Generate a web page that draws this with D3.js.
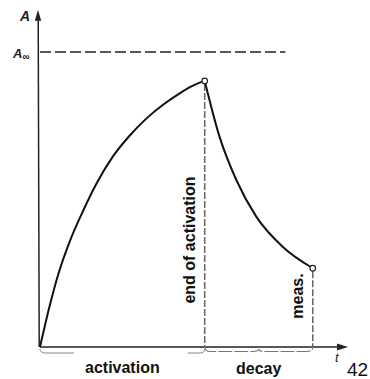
<!DOCTYPE html>
<html>
<head>
<meta charset="utf-8">
<script src="https://cdn.jsdelivr.net/npm/d3@7"></script>
<style>
  body { margin: 0; background: #fff; }
  svg { display: block; }
  text { font-family: "Liberation Sans", Arial, sans-serif; }
</style>
</head>
<body>
<script>
    var width = 370, height = 379;

    // activation curve (t, A), A_inf = 1
    var activation = [[0, 0], [0.6, 0.142], [1.1, 0.245], [1.82, 0.36], [2.62, 0.462],
      [3.44, 0.555], [4.44, 0.647], [5.45, 0.717], [6.47, 0.775], [7.47, 0.821],
      [8.48, 0.860], [9.29, 0.886], [10, 0.902]];
    // decay after end of activation
    var decay = [[10, 0.902], [10.9, 0.713], [11.92, 0.566], [13.13, 0.442],
      [14.73, 0.340], [16.56, 0.267]];
    var markers = [[10, 0.902], [16.56, 0.267]];
    var phases = [{name: "activation", t0: 0, t1: 10}, {name: "decay", t0: 10, t1: 16.56}];
    var aInf = 1, tMax = 18.7, aMax = 1.143;

    var svg = d3.select("body").append("svg").attr("width", width).attr("height", height);

    var x = d3.scaleLinear().domain([0, tMax]).range([40, 348]);
    var y = d3.scaleLinear().domain([0, aInf]).range([347, 52]);

    // axes with arrows
    svg.append("line")
        .attr("x1", x(0)).attr("y1", y(0)).attr("x2", x(tMax) - 8).attr("y2", y(0))
        .attr("stroke", "#222").attr("stroke-width", 1.4);
    svg.append("path")
        .attr("d", "M" + x(tMax) + "," + y(0) + "l-11,-3.5l0,7z")
        .attr("fill", "#222");
    svg.append("line")
        .attr("x1", x(0) - 0.8).attr("y1", y(0)).attr("x2", x(0) - 1.8).attr("y2", y(aMax) + 8)
        .attr("stroke", "#222").attr("stroke-width", 1.5);
    svg.append("path")
        .attr("d", "M" + (x(0) - 2) + "," + y(aMax) + "l-3.2,11l6.4,0z")
        .attr("fill", "#222");

    // A infinity asymptote
    svg.append("line")
        .attr("x1", x(0)).attr("y1", y(aInf)).attr("x2", x(14.9)).attr("y2", y(aInf))
        .attr("stroke", "#222").attr("stroke-width", 1.5)
        .attr("stroke-dasharray", "11,4");

    // vertical dashed drops
    svg.selectAll(".drop")
        .data(markers)
      .enter().append("line")
        .attr("class", "drop")
        .attr("x1", function(d){ return x(d[0]); })
        .attr("x2", function(d){ return x(d[0]); })
        .attr("y1", function(d){ return y(d[1]) + 3; })
        .attr("y2", y(0))
        .attr("stroke", "#666").attr("stroke-width", 1.5)
        .attr("stroke-dasharray", "7,2");

    // curves
    var line = d3.line()
        .x(function(d){ return x(d[0]); })
        .y(function(d){ return y(d[1]); })
        .curve(d3.curveMonotoneX);

    [activation, decay].forEach(function(s){
      svg.append("path")
          .attr("d", line(s))
          .attr("fill", "none")
          .attr("stroke", "#111")
          .attr("stroke-width", 2);
    });

    svg.selectAll(".pt")
        .data(markers)
      .enter().append("circle")
        .attr("cx", function(d){ return x(d[0]); })
        .attr("cy", function(d){ return y(d[1]); })
        .attr("r", 2.8)
        .attr("fill", "#fff").attr("stroke", "#222").attr("stroke-width", 1.2);

    // braces under the t axis
    function brace(x0, x1, yb){
      var m = (x0 + x1) / 2, h = 5;
      return "M" + x0 + "," + (yb - 2) + "Q" + x0 + "," + (yb + h / 2) + " " + (x0 + 6) + "," + (yb + h / 2) +
        "L" + (m - 6) + "," + (yb + h / 2) + "Q" + m + "," + (yb + h / 2) + " " + m + "," + yb +
        "Q" + m + "," + (yb + h / 2) + " " + (m + 6) + "," + (yb + h / 2) +
        "L" + (x1 - 6) + "," + (yb + h / 2) + "Q" + x1 + "," + (yb + h / 2) + " " + x1 + "," + (yb - 2);
    }
    // activation brace: only its ends are still visible in the print
    svg.append("path")
        .attr("d", "M" + x(0) + "," + 349 + "Q" + x(0) + "," + 353 + " " + (x(0) + 6) + "," + 353 + "L" + (x(0) + 34) + ",353")
        .attr("fill", "none").attr("stroke", "#888").attr("stroke-width", 1);
    svg.append("path")
        .attr("d", "M" + (x(10) - 17) + ",353L" + (x(10) - 5) + ",353Q" + x(10) + ",353 " + x(10) + ",349")
        .attr("fill", "none").attr("stroke", "#888").attr("stroke-width", 1);
    svg.append("path")
        .attr("d", brace(x(phases[1].t0), x(phases[1].t1), 349))
        .attr("fill", "none").attr("stroke", "#777").attr("stroke-width", 1.1)
        .attr("stroke-dasharray", "14,2");

    // phase labels
    svg.selectAll(".phase")
        .data(phases)
      .enter().append("text")
        .attr("x", function(d){ return (x(d.t0) + x(d.t1)) / 2; })
        .attr("y", function(d, i){ return i ? 374 : 373; })
        .attr("text-anchor", "middle")
        .attr("font-size", 16).attr("font-weight", "bold")
        .attr("fill", "#111")
        .text(function(d){ return d.name; });

    // rotated labels
    svg.append("text")
        .attr("transform", "translate(195," + 240 + ") rotate(-90)")
        .attr("text-anchor", "middle")
        .attr("font-size", 16).attr("font-weight", "bold").attr("fill", "#111")
        .text("end of activation");
    svg.append("text")
        .attr("transform", "translate(303," + 296 + ") rotate(-90)")
        .attr("text-anchor", "middle")
        .attr("font-size", 16).attr("font-weight", "bold").attr("fill", "#111")
        .text("meas.");

    // axis names
    svg.append("text")
        .attr("x", 20).attr("y", 21)
        .attr("font-size", 14).attr("font-style", "italic").attr("font-weight", "bold")
        .attr("fill", "#222")
        .text("A");
    var ainf = svg.append("text")
        .attr("x", 13).attr("y", 58)
        .attr("font-size", 13).attr("font-style", "italic").attr("font-weight", "bold")
        .attr("fill", "#222");
    ainf.append("tspan").text("A");
    ainf.append("tspan").attr("font-size", 10).attr("dy", 2).text("\u221e");
    svg.append("text")
        .attr("x", 335).attr("y", 362)
        .attr("font-size", 13).attr("font-style", "italic")
        .attr("font-family", "Liberation Serif, serif")
        .attr("fill", "#222")
        .text("t");
    svg.append("text")
        .attr("x", 347).attr("y", 376)
        .attr("font-size", 19)
        .attr("fill", "#111")
        .text("42");
</script>
</body>
</html>
